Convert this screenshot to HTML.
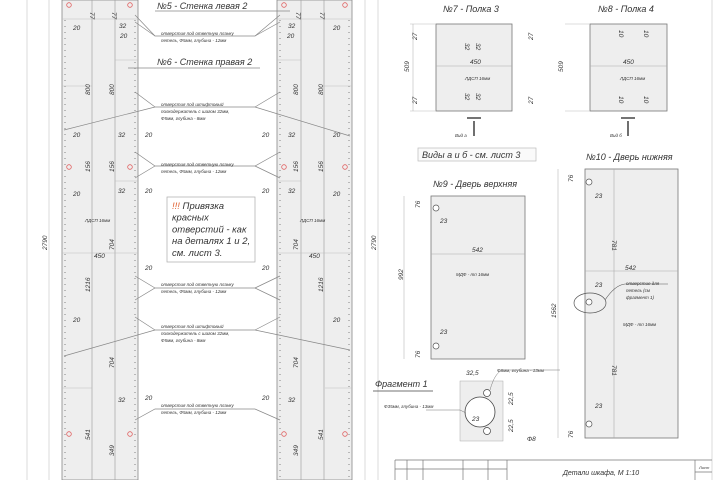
<!DOCTYPE html>
<html><head><meta charset="utf-8"><style>
html,body{margin:0;padding:0;background:#fff;}
svg{display:block;}
text{font-family:"Liberation Sans",sans-serif;font-style:italic;fill:#333;}
</style></head><body>
<svg width="720" height="480" viewBox="0 0 720 480" xmlns="http://www.w3.org/2000/svg">
<rect x="0" y="0" width="720" height="480" fill="#fff"/>
<g stroke="#ccc" stroke-width="0.7" fill="none">
<line x1="27" y1="0" x2="27" y2="480"/>
<line x1="49" y1="0" x2="49" y2="480"/>
<line x1="365" y1="0" x2="365" y2="480"/>
<line x1="378" y1="0" x2="378" y2="480"/>
<line x1="712" y1="0" x2="712" y2="480"/>
</g>
<rect x="62" y="0" width="76" height="480" fill="#eeeeee" stroke="#888" stroke-width="0.8"/>
<line x1="92" y1="0" x2="92" y2="480" stroke="#999" stroke-width="0.6"/>
<line x1="115" y1="0" x2="115" y2="480" stroke="#999" stroke-width="0.6"/>
<line x1="65" y1="20" x2="65" y2="480" stroke="#666" stroke-width="0.8" stroke-dasharray="1 5"/>
<line x1="135" y1="20" x2="135" y2="480" stroke="#666" stroke-width="0.8" stroke-dasharray="1 5"/>
<rect x="277" y="0" width="75" height="480" fill="#eeeeee" stroke="#888" stroke-width="0.8"/>
<line x1="301" y1="0" x2="301" y2="480" stroke="#999" stroke-width="0.6"/>
<line x1="324" y1="0" x2="324" y2="480" stroke="#999" stroke-width="0.6"/>
<line x1="280" y1="20" x2="280" y2="480" stroke="#666" stroke-width="0.8" stroke-dasharray="1 5"/>
<line x1="349" y1="20" x2="349" y2="480" stroke="#666" stroke-width="0.8" stroke-dasharray="1 5"/>
<g stroke="#bbb" stroke-width="0.6">
<line x1="62" y1="19" x2="138" y2="19"/><line x1="277" y1="19" x2="352" y2="19"/>
<line x1="62" y1="86" x2="92" y2="86"/><line x1="322" y1="86" x2="352" y2="86"/>
<line x1="62" y1="253" x2="138" y2="253"/><line x1="277" y1="253" x2="352" y2="253"/>
<line x1="62" y1="388" x2="92" y2="388"/><line x1="325" y1="388" x2="352" y2="388"/>
<line x1="115" y1="60" x2="138" y2="60"/><line x1="277" y1="60" x2="301" y2="60"/>
<line x1="115" y1="181" x2="138" y2="181"/><line x1="277" y1="181" x2="301" y2="181"/>
</g>
<g stroke="#e06060" stroke-width="0.8" fill="none">
<circle cx="69" cy="5" r="2.3"/><circle cx="130" cy="5" r="2.3"/><circle cx="284" cy="5" r="2.3"/><circle cx="345" cy="5" r="2.3"/>
<circle cx="69" cy="167" r="2.3"/><circle cx="130" cy="167" r="2.3"/><circle cx="284" cy="167" r="2.3"/><circle cx="345" cy="167" r="2.3"/>
<circle cx="69" cy="434" r="2.3"/><circle cx="130" cy="434" r="2.3"/><circle cx="284" cy="434" r="2.3"/><circle cx="345" cy="434" r="2.3"/>
</g>
<g stroke="#888" stroke-width="0.7" fill="none">
<path d="M135 15 L155 36 H255 L280 15"/><path d="M135 22 L155 36 M255 36 L280 22"/>
<path d="M64 130 L155 107 H255 L350 136"/><path d="M135 92 L155 107 M255 107 L280 92"/>
<path d="M135 152 L155 166 H255 L280 152"/><path d="M135 178 L155 166 M255 166 L280 178"/>
<path d="M135 300 L155 288 H255 L280 300"/><path d="M135 276 L155 288 M255 288 L280 276"/>
<path d="M64 356 L155 330 H255 L350 350"/><path d="M135 317 L155 330 M255 330 L280 317"/>
<path d="M135 420 L155 409 H255 L280 420"/>
<line x1="128" y1="68" x2="260" y2="68"/>
<line x1="155" y1="11" x2="290" y2="11"/>
</g>
<g font-size="9" fill="#333">
<text x="157" y="9">№5 - Стенка левая 2</text>
<text x="157" y="65">№6 - Стенка правая 2</text>
</g>
<g font-size="4.5">
<text x="161" y="35">отверстия под ответную планку</text><text x="161" y="42">петель, Ф5мм, глубина - 12мм</text>
<text x="161" y="106">отверстия под штифтовый</text><text x="161" y="113">полкодержатель с шагом 32мм,</text><text x="161" y="120">Ф5мм, глубина - 8мм</text>
<text x="161" y="166">отверстия под ответную планку</text><text x="161" y="173">петель, Ф5мм, глубина - 12мм</text>
<text x="161" y="286">отверстия под ответную планку</text><text x="161" y="293">петель, Ф5мм, глубина - 12мм</text>
<text x="161" y="328">отверстия под штифтовый</text><text x="161" y="335">полкодержатель с шагом 32мм,</text><text x="161" y="342">Ф5мм, глубина - 8мм</text>
<text x="161" y="407">отверстия под ответную планку</text><text x="161" y="414">петель, Ф5мм, глубина - 12мм</text>
<text x="85" y="222">ЛДСП 16мм</text><text x="300" y="222">ЛДСП 16мм</text>
</g>
<rect x="167" y="197" width="88" height="65" fill="#fff" stroke="#aaa" stroke-width="0.7"/>
<g font-size="9.5">
<text x="172" y="209"><tspan fill="#e06030">!!!</tspan> Привязка</text>
<text x="172" y="220.7">красных</text><text x="172" y="232.4">отверстий - как</text>
<text x="172" y="244.1">на деталях 1 и 2,</text><text x="172" y="255.8">см. лист 3.</text>
</g>
<g font-size="6.5">
<text x="73" y="30">20</text><text x="119" y="28">32</text><text x="120" y="38">20</text>
<text x="73" y="137">20</text><text x="118" y="137">32</text><text x="145" y="137">20</text>
<text x="262" y="137">20</text><text x="288" y="137">32</text><text x="333" y="137">20</text>
<text x="73" y="196">20</text><text x="118" y="193">32</text><text x="145" y="193">20</text>
<text x="262" y="193">20</text><text x="288" y="193">32</text><text x="333" y="196">20</text>
<text x="288" y="28">32</text><text x="287" y="38">20</text><text x="333" y="30">20</text>
<text x="145" y="270">20</text><text x="262" y="270">20</text>
<text x="94" y="258">450</text><text x="309" y="258">450</text>
<text x="73" y="322">20</text><text x="333" y="322">20</text>
<text x="145" y="400">20</text><text x="118" y="402">32</text><text x="262" y="400">20</text><text x="288" y="402">32</text>
</g>
<g font-size="6.5">
<text transform="translate(90,95) rotate(-90)">800</text><text transform="translate(114,95) rotate(-90)">800</text>
<text transform="translate(298,95) rotate(-90)">800</text><text transform="translate(323,95) rotate(-90)">800</text>
<text transform="translate(90,172) rotate(-90)">156</text><text transform="translate(114,172) rotate(-90)">156</text>
<text transform="translate(298,172) rotate(-90)">156</text><text transform="translate(323,172) rotate(-90)">156</text>
<text transform="translate(114,250) rotate(-90)">704</text><text transform="translate(298,250) rotate(-90)">704</text>
<text transform="translate(90,292) rotate(-90)">1216</text><text transform="translate(323,292) rotate(-90)">1216</text>
<text transform="translate(114,368) rotate(-90)">704</text><text transform="translate(298,368) rotate(-90)">704</text>
<text transform="translate(90,440) rotate(-90)">541</text><text transform="translate(323,440) rotate(-90)">541</text>
<text transform="translate(114,456) rotate(-90)">349</text><text transform="translate(298,456) rotate(-90)">349</text>
<text transform="translate(90,12) rotate(90)">77</text><text transform="translate(112,12) rotate(90)">77</text>
<text transform="translate(296,12) rotate(90)">77</text><text transform="translate(320,12) rotate(90)">77</text>
<text transform="translate(47,250) rotate(-90)">2790</text><text transform="translate(376,250) rotate(-90)">2790</text>
</g>
<text x="443" y="12" font-size="9">№7 - Полка 3</text>
<rect x="436" y="24" width="76" height="87" fill="#eeeeee" stroke="#777" stroke-width="0.8"/>
<line x1="436" y1="66" x2="512" y2="66" stroke="#aaa" stroke-width="0.6"/>
<line x1="410" y1="24" x2="436" y2="24" stroke="#bbb" stroke-width="0.5"/><line x1="410" y1="111" x2="436" y2="111" stroke="#bbb" stroke-width="0.5"/>
<line x1="413" y1="24" x2="413" y2="111" stroke="#aaa" stroke-width="0.5"/>
<g font-size="6.5"><text x="470" y="64">450</text>
<text transform="translate(409,72) rotate(-90)">509</text>
<text transform="translate(417,40) rotate(-90)">27</text><text transform="translate(417,104) rotate(-90)">27</text>
<text transform="translate(533,40) rotate(-90)">27</text><text transform="translate(533,104) rotate(-90)">27</text>
<text transform="translate(465,43) rotate(90)">32</text><text transform="translate(476,43) rotate(90)">32</text>
<text transform="translate(465,93) rotate(90)">32</text><text transform="translate(476,93) rotate(90)">32</text></g>
<text x="465" y="80" font-size="4.5">ЛДСП 16мм</text>
<path d="M467 118 H481 M474 121 V136" stroke="#222" stroke-width="1.3" fill="none"/>
<text x="455" y="137" font-size="4.5">Вид а</text>
<text x="598" y="12" font-size="9">№8 - Полка 4</text>
<rect x="590" y="24" width="77" height="87" fill="#eeeeee" stroke="#777" stroke-width="0.8"/>
<line x1="590" y1="66" x2="667" y2="66" stroke="#aaa" stroke-width="0.6"/>
<line x1="565" y1="24" x2="590" y2="24" stroke="#bbb" stroke-width="0.5"/><line x1="565" y1="111" x2="590" y2="111" stroke="#bbb" stroke-width="0.5"/>
<g font-size="6.5"><text x="623" y="64">450</text>
<text transform="translate(563,72) rotate(-90)">509</text>
<text transform="translate(619,30) rotate(90)">10</text><text transform="translate(644,30) rotate(90)">10</text>
<text transform="translate(619,96) rotate(90)">10</text><text transform="translate(644,96) rotate(90)">10</text></g>
<text x="620" y="80" font-size="4.5">ЛДСП 16мм</text>
<path d="M621 118 H635 M628 121 V136" stroke="#222" stroke-width="1.3" fill="none"/>
<text x="610" y="137" font-size="4.5">Вид б</text>
<rect x="418" y="148" width="118" height="13" fill="#fafafa" stroke="#bbb" stroke-width="0.7"/>
<text x="422" y="158" font-size="9">Виды а и б - см. лист 3</text>
<text x="586" y="160" font-size="9">№10 - Дверь нижняя</text>
<text x="433" y="187" font-size="9">№9 - Дверь верхняя</text>
<rect x="431" y="196" width="94" height="163" fill="#eeeeee" stroke="#777" stroke-width="0.8"/>
<line x1="431" y1="254" x2="525" y2="254" stroke="#aaa" stroke-width="0.6"/>
<line x1="404" y1="196" x2="404" y2="359" stroke="#aaa" stroke-width="0.5"/>
<circle cx="436" cy="208" r="3" fill="#fff" stroke="#555" stroke-width="0.7"/>
<circle cx="436" cy="346" r="3" fill="#fff" stroke="#555" stroke-width="0.7"/>
<g font-size="6.5"><text x="472" y="252">542</text><text x="440" y="223">23</text><text x="440" y="334">23</text>
<text transform="translate(403,280) rotate(-90)">992</text><text transform="translate(420,208) rotate(-90)">76</text><text transform="translate(420,358) rotate(-90)">76</text></g>
<text x="456" y="276" font-size="4.5">МДФ - тп 16мм</text>
<rect x="585" y="169" width="93" height="269" fill="#eeeeee" stroke="#777" stroke-width="0.8"/>
<line x1="614" y1="169" x2="614" y2="438" stroke="#aaa" stroke-width="0.6"/>
<line x1="585" y1="271" x2="678" y2="271" stroke="#aaa" stroke-width="0.6"/>
<line x1="558" y1="169" x2="558" y2="438" stroke="#aaa" stroke-width="0.5"/>
<circle cx="589" cy="182" r="3" fill="#fff" stroke="#555" stroke-width="0.7"/>
<circle cx="589" cy="302" r="3" fill="#fff" stroke="#555" stroke-width="0.7"/>
<circle cx="589" cy="424" r="3" fill="#fff" stroke="#555" stroke-width="0.7"/>
<ellipse cx="590" cy="303" rx="16" ry="10" fill="none" stroke="#555" stroke-width="0.7"/>
<path d="M605 300 Q615 285 625 284 H668" stroke="#555" stroke-width="0.6" fill="none"/>
<g font-size="6.5"><text x="625" y="270">542</text><text x="595" y="198">23</text><text x="595" y="287">23</text><text x="595" y="408">23</text>
<text transform="translate(556,318) rotate(-90)">1562</text><text transform="translate(573,182) rotate(-90)">76</text><text transform="translate(573,438) rotate(-90)">76</text>
<text transform="translate(612,240) rotate(90)">781</text><text transform="translate(612,365) rotate(90)">781</text></g>
<g font-size="4.5"><text x="626" y="285">отверстие для</text><text x="626" y="292">петель (см</text><text x="626" y="299">фрагмент 1)</text>
<text x="623" y="326">МДФ - тп 16мм</text></g>
<text x="375" y="387" font-size="9">Фрагмент 1</text>
<line x1="373" y1="391" x2="433" y2="391" stroke="#444" stroke-width="0.8"/>
<rect x="460" y="381" width="43" height="60" fill="#eeeeee" stroke="#aaa" stroke-width="0.5"/>
<circle cx="480" cy="412" r="15" fill="#fff" stroke="#444" stroke-width="0.8"/>
<circle cx="487" cy="393" r="3.5" fill="#fff" stroke="#444" stroke-width="0.7"/>
<circle cx="487" cy="431" r="3.5" fill="#fff" stroke="#444" stroke-width="0.7"/>
<g font-size="6.5"><text x="466" y="375">32,5</text><text x="472" y="421">23</text>
<text transform="translate(513,405) rotate(-90)">22,5</text><text transform="translate(513,432) rotate(-90)">22,5</text><text x="527" y="441">Ф8</text></g>
<g font-size="4.5"><text x="497" y="372">Ф8мм, глубина - 13мм</text><text x="384" y="408">Ф35мм, глубина - 13мм</text></g>
<path d="M490 390 Q495 372 503 370 H560" stroke="#777" stroke-width="0.5" fill="none"/>
<path d="M426 410 H460 L466 413" stroke="#777" stroke-width="0.5" fill="none"/>
<g stroke="#777" stroke-width="0.7" fill="none">
<line x1="395" y1="460" x2="712" y2="460"/>
<line x1="395" y1="460" x2="395" y2="480"/>
<line x1="407" y1="460" x2="407" y2="480"/><line x1="423" y1="460" x2="423" y2="480"/>
<line x1="463" y1="460" x2="463" y2="480"/><line x1="488" y1="460" x2="488" y2="480"/>
<line x1="507" y1="460" x2="507" y2="480"/><line x1="695" y1="460" x2="695" y2="480"/>
<line x1="395" y1="469" x2="507" y2="469"/><line x1="695" y1="472" x2="712" y2="472"/>
</g>
<text x="563" y="475" font-size="7">Детали шкафа, М 1:10</text>
<text x="699" y="469" font-size="4">Лист</text>
</svg>
</body></html>
